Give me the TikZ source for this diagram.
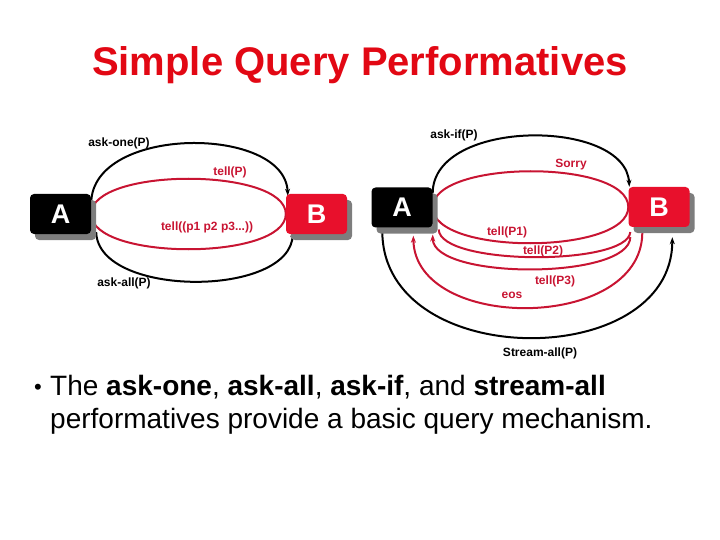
\documentclass[tikz,border=0pt]{standalone}
\usepackage{fontspec}
\setmainfont{Liberation Sans}
\usetikzlibrary{arrows.meta,shadows}
\definecolor{titlered}{RGB}{226,8,20}
\definecolor{boxred}{RGB}{232,16,44}
\definecolor{linered}{RGB}{200,20,50}
\definecolor{shadowgray}{RGB}{125,125,125}
\pgfdeclarelayer{background}
\pgfsetlayers{background,main}
\begin{document}
\begin{tikzpicture}[x=1pt,y=-1pt,
  agent/.style={rounded corners=4pt, minimum width=61pt, minimum height=40pt, inner sep=0pt,
    font=\fontsize{27}{27}\selectfont\bfseries, text=white,
    drop shadow={shadow xshift=5pt, shadow yshift=-6pt, fill=shadowgray, opacity=1}},
  ablk/.style={agent, fill=black},
  bred/.style={agent, fill=boxred},
  blkline/.style={draw=black, line width=2pt},
  redline/.style={draw=linered, line width=2pt},
  arr/.style={-{Stealth[length=7pt,width=5pt]}},
  lbl/.style={font=\fontsize{12}{12}\selectfont\bfseries, inner sep=0pt},
  rlbl/.style={lbl, text=linered},
  body/.style={anchor=base west, inner sep=0pt, font=\fontsize{28}{28}\selectfont}
]
\useasboundingbox (0,0) rectangle (720,540);

% title
\node[font=\fontsize{40}{40}\selectfont\bfseries, text=titlered, anchor=base] (title) at (360,76) {Simple Query Performatives};

% agents
\node[ablk] (A1) at (60.5,214) {A};
\node[bred] (B1) at (316.5,214) {B};
\node[ablk] (A2) at (402,207.5) {A};
\node[bred] (B2) at (659,207) {B};

\begin{pgfonlayer}{background}
% left diagram
\draw[redline] (A1.east) .. controls +(0,-47) and +(0,-47) .. (B1.west);
\draw[redline] (A1.east) .. controls +(0,47) and +(0,47) .. (B1.west);
\draw[blkline,arr] ([yshift=11pt]A1.east) .. controls (92,125) and (285,125) .. ([xshift=2pt,yshift=-2pt]B1.north west);
\draw[blkline,arr] ([xshift=5pt,yshift=2pt]A1.south east) .. controls (98,298) and (292,298) .. ([xshift=7pt,yshift=4pt]B1.south west);

% right diagram
\draw[blkline,arr] ([yshift=14.5pt]A2.east) .. controls (433,118) and (626,118) .. ([xshift=1pt]B2.north west);
\draw[redline] (A2.east) .. controls +(0,-48) and +(0,-48) .. (B2.west);
\draw[redline] (A2.east) .. controls +(0,48) and +(0,48) .. (B2.west);
\draw[redline] ([xshift=2pt,yshift=-25pt]B2.west) .. controls (628,266) and (440,266) .. ([xshift=6pt,yshift=-22pt]A2.east);
\draw[redline,arr] ([xshift=2pt,yshift=-30pt]B2.west) .. controls (630,280) and (433,280) .. ([yshift=-27pt]A2.east);
\draw[redline,arr] ([xshift=14pt,yshift=-6pt]B2.south west) .. controls (641,332) and (415,332) .. ([xshift=42pt,yshift=-8pt]A2.south west);
\draw[blkline,arr] ([xshift=11pt,yshift=-4pt]A2.south west) .. controls (383,372) and (672,372) .. ([xshift=44pt,yshift=-10pt]B2.south west);
\end{pgfonlayer}

% labels left
\node[lbl] (l1) at (119,143) {ask-one(P)};
\node[rlbl] (l2) at (230,172) {tell(P)};
\node[rlbl] (l3) at (207,227) {tell((p1 p2 p3...))};
\node[lbl] (l4) at (124,283) {ask-all(P)};
% labels right
\node[lbl] (r1) at (454,135) {ask-if(P)};
\node[rlbl] (r2) at (571,165) {Sorry};
\node[rlbl] (r3) at (507,232) {tell(P1)};
\node[rlbl] (r4) at (543,251) {tell(P2)};
\node[rlbl] (r5) at (555,281) {tell(P3)};
\node[rlbl] (r6) at (512,295) {eos};
\node[lbl] (r7) at (540,353) {Stream-all(P)};

% bullet text
\node[body, font=\fontsize{22}{22}\selectfont] (bul) at (34,394) {•};
\node[body] (t1) at (50,395) {The \textbf{ask-one}, \textbf{ask-all}, \textbf{ask-if}, and \textbf{stream-all}};
\node[body] (t2) at (50,428) {performatives provide a basic query mechanism.};
\end{tikzpicture}
\end{document}
